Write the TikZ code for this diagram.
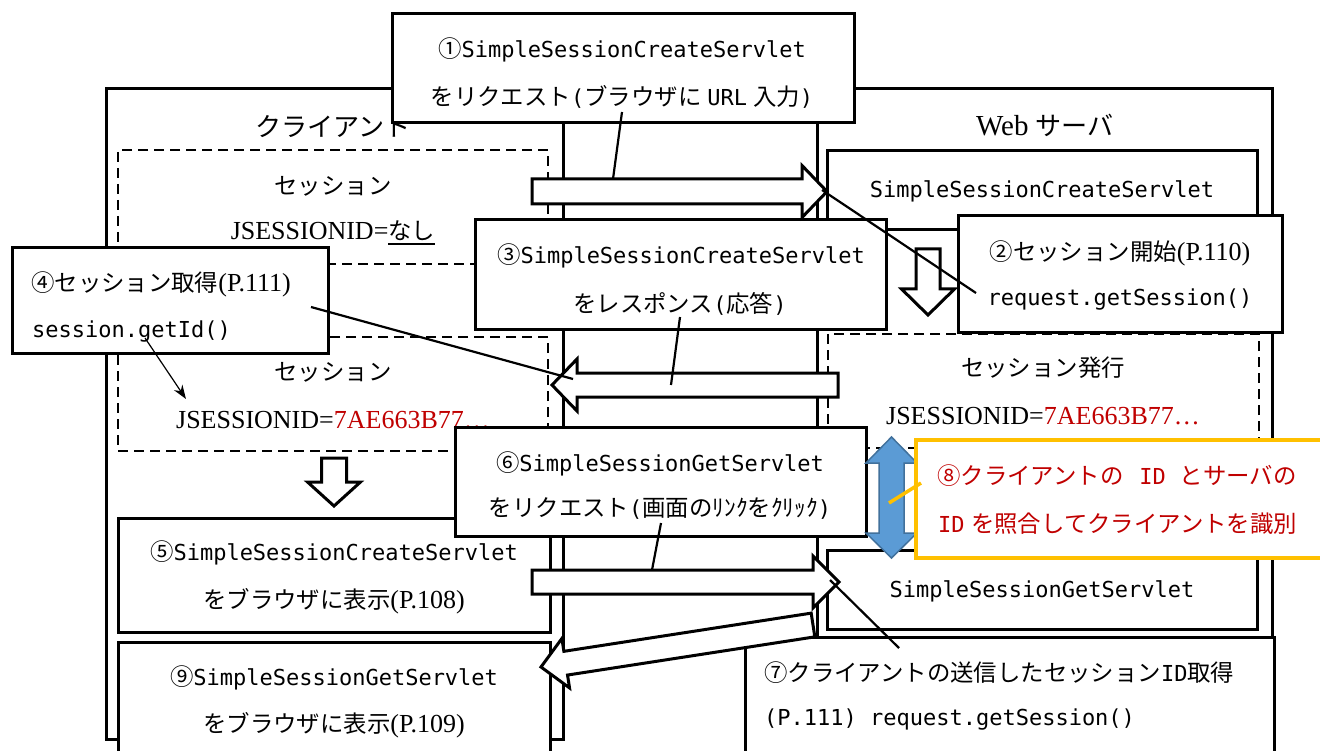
\documentclass[tikz,border=0pt]{standalone}
\usepackage{fontspec}
\setmainfont{Liberation Serif}
\newfontfamily\jpf[Scale=0.9]{Noto Sans CJK JP}
\newfontfamily\monof[Scale=0.846]{DejaVu Sans Mono}
\usetikzlibrary{calc,arrows.meta}
\definecolor{idred}{RGB}{192,0,0}
\definecolor{calloutyellow}{RGB}{255,192,0}
\definecolor{arrowblue}{RGB}{91,155,213}
\definecolor{arrowblueedge}{RGB}{65,113,156}
\newcommand\J[1]{{\jpf #1}}
\newcommand\M[1]{{\monof #1}}
\newcommand\ulthick[1]{\setbox0\hbox{#1}\rlap{\rule[-6pt]{\wd0}{2pt}}\box0}
% block arrow: [style] start end shaft-half head-half head-length
\newcommand\blockarrow[6][]{%
  \coordinate (ha-#2) at ($(#3)!#6!(#2)$);
  \draw[barrow,#1] ($(#2)!#4!90:(#3)$) -- ($(ha-#2)!#4!-90:(#2)$) -- ($(ha-#2)!#5!-90:(#2)$)
    -- (#3) -- ($(ha-#2)!#5!90:(#2)$) -- ($(ha-#2)!#4!90:(#2)$) -- ($(#2)!#4!-90:(#3)$) -- cycle;
}
\begin{document}
\begin{tikzpicture}[x=1pt,y=-1pt,
  box/.style={draw, rectangle, line width=3pt, fill=white, inner sep=0pt},
  dashbox/.style={draw, rectangle, line width=2.5pt, dash pattern=on 10pt off 6pt, inner sep=0pt},
  txt/.style={inner sep=0pt, font=\fontsize{26}{30}\selectfont},
  lbl/.style={inner sep=0pt, font=\fontsize{29}{34}\selectfont},
  barrow/.style={draw, fill=white, line width=3pt, line join=miter},
  callout/.style={line width=2.2pt},
  pointer/.style={line width=1.2pt, -{Stealth[length=14pt,width=10pt]}},
  yline/.style={line width=3.5pt, calloutyellow},
  dblarrow/.style={draw=arrowblueedge, fill=arrowblue, line width=1.5pt, line join=miter}
]
\useasboundingbox (0,0) rectangle (1320,751);
\fill[white] (0,0) rectangle (1320,751);

% frames
\node[box, minimum width=457pt, minimum height=650pt] (cf) at (334.5,414) {};
\node[box, minimum width=455pt, minimum height=650pt] (sf) at (1044.5,414) {};
\node[lbl] (clbl) at (333,127) {\J{クライアント}};
\node[lbl] (slbl) at (1045,125) {Web \J{サーバ}};

% client session boxes
\node[dashbox, minimum width=430pt, minimum height=114pt] (cd1) at (333,207) {};
\node[txt] (cd1a) at (333,186) {\J{セッション}};
\node[txt] (cd1b) at (333,233) {JSESSIONID=\ulthick{\J{なし}}};
\node[dashbox, minimum width=430pt, minimum height=114pt] (cd2) at (333,394) {};
\node[txt] (cd2a) at (333,372) {\J{セッション}};
\node[txt] (cd2b) at (333,420) {JSESSIONID=\textcolor{idred}{7AE663B77…}};

% server boxes
\node[box, minimum width=430pt, minimum height=79pt] (s1) at (1042,190.5) {};
\node[txt] (s1t) at (1042,191) {\M{SimpleSessionCreateServlet}};
\node[dashbox, minimum width=431pt, minimum height=114pt] (sd) at (1043.5,391) {};
\node[txt] (sda) at (1043,368) {\J{セッション発行}};
\node[txt] (sdb) at (1043,416) {JSESSIONID=\textcolor{idred}{7AE663B77…}};
\node[box, minimum width=430pt, minimum height=79pt] (s2) at (1042,589.5) {};
\node[txt] (s2t) at (1042,591) {\M{SimpleSessionGetServlet}};

% down arrows
\coordinate (cda) at (334,458); \coordinate (cdb) at (334,506);
\blockarrow{cda}{cdb}{12.5pt}{26.5pt}{24pt}
\coordinate (sda1) at (928,249); \coordinate (sdb1) at (928,315);
\blockarrow{sda1}{sdb1}{12pt}{26.5pt}{26pt}

% client result boxes
\node[box, minimum width=432pt, minimum height=114pt] (b5) at (334,575) {};
\node[txt] (b5a) at (334,553) {\J{⑤}\M{SimpleSessionCreateServlet}};
\node[txt] (b5b) at (334,601) {\J{をブラウザに表示}(P.108)};
\node[box, minimum width=432pt, minimum height=133pt] (b9) at (334,708.5) {};
\node[txt] (b9a) at (334,678) {\J{⑨}\M{SimpleSessionGetServlet}};
\node[txt] (b9b) at (334,725) {\J{をブラウザに表示}(P.109)};

% box 4
\node[box, minimum width=316pt, minimum height=105pt] (b4) at (170,300.5) {};
\node[txt, anchor=west] (b4a) at (31,284) {\J{④セッション取得}(P.111)};
\node[txt, anchor=west] (b4b) at (32,332) {\M{session.getId()}};
\coordinate (p4a) at (145,338); \coordinate (p4b) at (186,399);
\draw[pointer] (p4a) -- (p4b);

% boxes 1, 3, 2
\node[box, minimum width=462pt, minimum height=109pt] (b1) at (623,68.5) {};
\node[txt] (b1a) at (622,50) {\J{①}\M{SimpleSessionCreateServlet}};
\node[txt] (b1b) at (622,97) {\J{をリクエスト}\M{(}\J{ブラウザに}\hspace{6pt}\M{URL}\hspace{6pt}\J{入力}\M{)}};
\node[box, minimum width=411pt, minimum height=110pt] (b3) at (680.5,275) {};
\node[txt] (b3a) at (681,256) {\J{③}\M{SimpleSessionCreateServlet}};
\node[txt] (b3b) at (680,304) {\J{をレスポンス}\M{(}\J{応答}\M{)}};
\node[box, minimum width=324pt, minimum height=117pt] (b2) at (1120,274.5) {};
\node[txt] (b2a) at (1120,253) {\J{②セッション開始}(P.110)};
\node[txt] (b2b) at (1120,300) {\M{request.getSession()}};

% request / response arrows
\coordinate (r1a) at (532,191.5); \coordinate (r1b) at (827,191.5);
\blockarrow{r1a}{r1b}{12.5pt}{26pt}{25pt}
\coordinate (r3a) at (838,385); \coordinate (r3b) at (552,385);
\blockarrow{r3a}{r3b}{12pt}{26pt}{25pt}

% box 6
\node[box, minimum width=411pt, minimum height=109pt] (b6) at (660.5,481.5) {};
\node[txt] (b6a) at (660,464) {\J{⑥}\M{SimpleSessionGetServlet}};
\node[txt] (b6b) at (660,509) {\J{をリクエスト}\M{(}\J{画面のﾘﾝｸをｸﾘｯｸ}\M{)}};
\coordinate (r6a) at (532,582); \coordinate (r6b) at (839,582);
\blockarrow{r6a}{r6b}{12pt}{26pt}{26pt}

% box 7
\node[box, minimum width=529pt, minimum height=138pt] (b7) at (1009.5,706) {};
\node[txt, anchor=west] (b7a) at (764,673) {\J{⑦クライアントの送信したセッション}\M{ID}\J{取得}};
\node[txt, anchor=west] (b7b) at (764,720) {\M{(P.111) request.getSession()}};

% response 9 (tilted)
\coordinate (r9a) at (813,625); \coordinate (r9b) at (541,667);
\blockarrow{r9a}{r9b}{12pt}{25pt}{25pt}

% double arrow and box 8
\coordinate (dt) at (891.5,437); \coordinate (db) at (891.5,558);
\draw[dblarrow] (dt) -- (917,463) -- (904,463) -- (904,533) -- (917,533) -- (db)
  -- (866,533) -- (879,533) -- (879,463) -- (866,463) -- cycle;
\node[box, draw=calloutyellow, line width=3.5pt, minimum width=424pt, minimum height=118pt] (b8) at (1128,499) {};
\node[txt, anchor=west, text=idred] (b8a) at (937,476) {\J{⑧クライアントの}\hspace{16pt}\M{ID}\hspace{14pt}\J{とサーバの}};
\node[txt, anchor=west, text=idred] (b8b) at (938,524) {\M{ID} \J{を照合してクライアントを識別}};
\coordinate (y8a) at (921,483); \coordinate (y8b) at (889,503);
\draw[yline] (y8a) -- (y8b);

% callout lines
\coordinate (c1a) at (622,112); \coordinate (c1b) at (613,179);
\draw[callout] (c1a) -- (c1b);
\coordinate (c2a) at (822,190); \coordinate (c2b) at (976,293);
\draw[callout] (c2a) -- (c2b);
\coordinate (c3a) at (680,317); \coordinate (c3b) at (671,385);
\draw[callout] (c3a) -- (c3b);
\coordinate (c4a) at (311,307); \coordinate (c4b) at (573,379);
\draw[callout] (c4a) -- (c4b);
\coordinate (c6a) at (661,523); \coordinate (c6b) at (652,570);
\draw[callout] (c6a) -- (c6b);
\coordinate (c7a) at (830,580); \coordinate (c7b) at (899,648);
\draw[callout] (c7a) -- (c7b);
\end{tikzpicture}
\end{document}
